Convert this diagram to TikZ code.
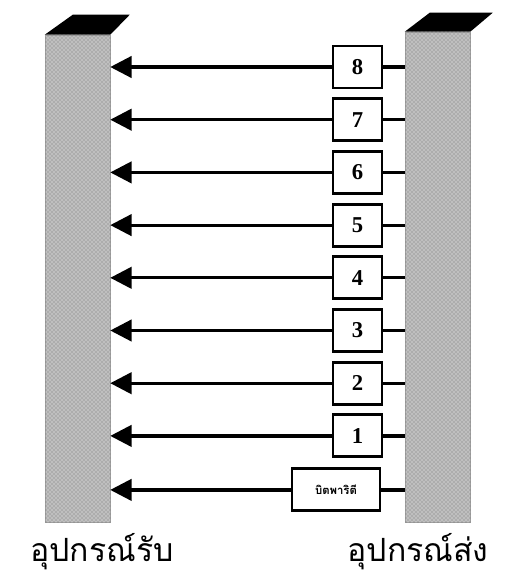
\documentclass[tikz,border=0pt]{standalone}
\usepackage{fontspec}
\newfontfamily\thaifont[Script=Thai]{Loma}
\newfontfamily\numfont{Liberation Serif}
\usepackage{tikz}
\usetikzlibrary{arrows.meta,positioning,calc,patterns}
\tikzset{
  oszlop/.style={draw=gray!75,fill=gray!50,inner sep=0pt,minimum width=48.75pt},
  minta/.style={pattern=crosshatch dots,pattern color=black!55},
  teto/.style={fill=black},
  doboz/.style={draw,line width=2.2pt,fill=white,inner sep=0pt,
    minimum width=36.75pt,minimum height=31.5pt,font=\numfont\bfseries\fontsize{17}{17}\selectfont},
  jel/.style={line width=2.4pt,-{Triangle[length=16pt,width=16pt]}},
  vez/.style={line width=2.4pt},
  felirat/.style={font=\thaifont\fontsize{24}{28}\selectfont},
}
\begin{document}
\begin{tikzpicture}[x=0.75pt,y=-0.75pt]
  \useasboundingbox (0,0) rectangle (505,576);
  % vevo es ado oszlopok
  \node[oszlop,minimum height=365.25pt] (vevo) at (77.5,278.5) {};
  \node[oszlop,minimum height=367.5pt] (ado) at (437.5,277) {};
  \fill[minta] (vevo.south west) rectangle (vevo.north east);
  \fill[minta] (ado.south west) rectangle (ado.north east);
  \fill[teto] (vevo.north west) -- ++(28,-20) -- ++(57,0) -- (vevo.north east) -- cycle;
  \fill[teto] (ado.north west) -- ++(25,-19) -- ++(63,0) -- (ado.north east) -- cycle;
  % adatbitek
  \foreach \n [count=\i] in {8,7,6,5,4,3,2,1} {
    \node[doboz] (b\n) at (357.5,{67+(\i-1)*52.7}) {\n};
    \draw[jel] (b\n.west) -- (vevo.east |- b\n.west);
    \draw[vez] (b\n.east) -- (ado.west |- b\n.east);
  }
  % paritasbit
  \node[doboz,minimum width=66pt,font=\thaifont\bfseries\fontsize{8.5}{9}\selectfont] (par) at (336,489.9) {บิตพาริตี};
  \draw[jel] (par.west) -- (vevo.east |- par.west);
  \draw[vez] (par.east) -- (ado.west |- par.east);
  \node[felirat] (fvevo) at (102,552) {อุปกรณ์รับ};
  \node[felirat] (fado) at (418,552) {อุปกรณ์ส่ง};
\end{tikzpicture}
\end{document}
